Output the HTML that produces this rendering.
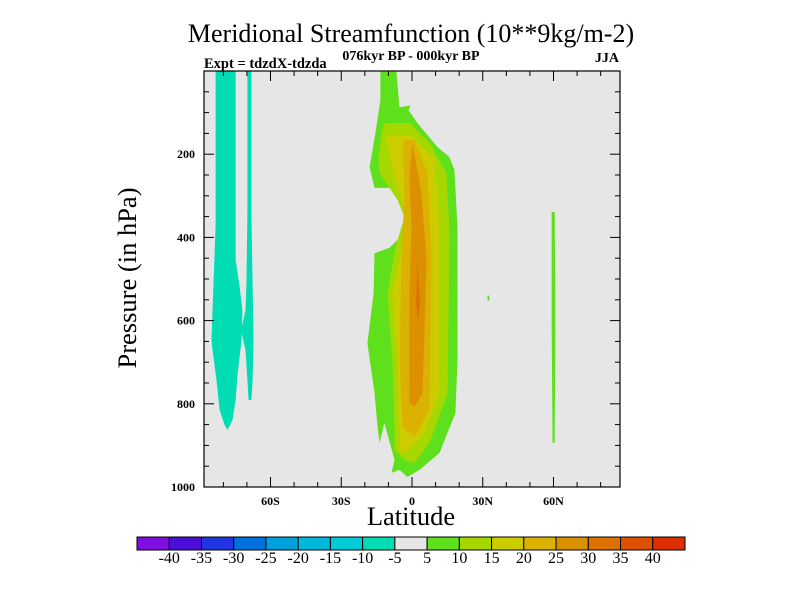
<!DOCTYPE html>
<html><head><meta charset="utf-8"><style>
html,body{margin:0;padding:0;background:#fff;}
svg{display:block;font-family:"Liberation Serif",serif;}
</style></head><body>
<svg id="chart" width="800" height="600" viewBox="0 0 800 600">
<text x="411" y="42" font-size="26" text-anchor="middle">Meridional Streamfunction (10**9kg/m-2)</text>
<text x="411" y="60" font-size="14" font-weight="bold" text-anchor="middle">076kyr BP - 000kyr BP</text>
<text x="204" y="68" font-size="14.5" font-weight="bold">Expt = tdzdX-tdzda</text>
<text x="619" y="62" font-size="14" font-weight="bold" text-anchor="end">JJA</text>
<text transform="translate(136,278) rotate(-90)" font-size="26.5" text-anchor="middle">Pressure (in hPa)</text>
<text x="411" y="525" font-size="26.5" text-anchor="middle">Latitude</text>
<rect x="204" y="71" width="416" height="416" fill="#e6e6e6"/>
<g id="fills"></g>
<g id="axes"></g>
<g id="colorbar"></g>
</svg>
<script>
const levels = [-40,-35,-30,-25,-20,-15,-10,-5,5,10,15,20,25,30,35,40];
const levelColors = ["#7f0ee0","#4a10d8","#2034e0","#0070dc","#00a0dc","#00b8dc","#00ccd8","#00dcb4","#e6e6e6","#5ee01c","#a6d800","#cccc00","#dcb200","#dc9000","#dc7000","#dc5000","#dc3000"];
const xTicks = [-60,-30,0,30,60];
const xTickLabels = ["60S","30S","0","30N","60N"];
const yTicks = [200,400,600,800,1000];
const cyanMain = [[-83.3,0],[-74.8,0],[-74.8,454],[-73.2,514],[-71.9,575],[-72.3,647],[-74,731],[-74.8,791],[-76.1,839],[-78.2,863],[-79.5,850],[-81.6,815],[-82.9,743],[-84.6,671],[-85,647],[-84.6,575],[-83.8,454],[-83.3,370]];
const cyanThin = [[-69.8,0],[-68.1,0],[-68.1,341],[-67.6,514],[-67.2,647],[-67.6,743],[-68.1,791],[-69.3,791],[-69.8,743],[-70.6,671],[-72.5,623],[-70.6,575],[-70.2,514],[-69.8,341]];
const green5 = [[-13.4,2],[-6.6,2],[-5.3,87],[-0.6,83],[-1.5,94],[2.3,125],[10.8,183],[15.9,207],[18,238],[19.3,375],[19.3,695],[18.4,822],[11.7,918],[3.2,959],[-1.9,976],[-5.3,959],[-8.7,966],[-7.4,935],[-11.7,846],[-13.8,894],[-14.6,856],[-15.9,774],[-18.9,654],[-16.3,534],[-15.9,438],[-9.5,425],[-3.2,389],[-1.1,341],[-3.6,310],[-9.5,281],[-15.9,281],[-18,231],[-15.5,149],[-13.4,70]];
const green10 = [[-11.7,125],[-1.1,125],[7.4,173],[14.6,245],[15.9,389],[15.1,774],[7.4,894],[1.1,942],[-3.2,935],[-7.4,911],[-7.4,856],[-8.3,695],[-10.4,534],[-7,423],[-3.2,351],[-6.1,310],[-13.8,245],[-14.2,214],[-12.9,149]];
const yellow15 = [[-10.4,156],[-0.2,156],[9.5,214],[11.7,375],[11.7,774],[5.3,870],[-1.1,911],[-5.3,918],[-6.1,695],[-8.3,534],[-5.3,454],[-2.3,351],[-5.3,293],[-8.3,238],[-10.4,173]];
const gold20 = [[-3.2,166],[1.1,166],[6.6,245],[8.3,454],[7.4,815],[1.1,880],[-4,856],[-5.3,695],[-4.5,454],[-3.2,293],[-4,190]];
const orange25 = [[0.2,173],[4.0,293],[6.2,454],[4.5,774],[1.1,807],[-1.1,798],[-1.1,534],[-0.2,375],[-1.1,255]];
const orange30 = [[2.3,454],[3.4,560],[2.6,600],[1.8,560]];
const green60N = [[59.2,339],[60.5,339],[60.8,600],[60.5,894],[59.6,894],[59.2,600]];
const greenDot = [[32.0,540],[32.8,540],[32.8,552],[32.0,552]];

const NS="http://www.w3.org/2000/svg";
const X0=204,X1=620,Y0=71,Y1=487,LATMIN=-88.2,LATMAX=88.2,PMIN=0,PMAX=1000;
function xs(lat){return X0+(lat-LATMIN)/(LATMAX-LATMIN)*(X1-X0);}
function ys(p){return Y0+(p-PMIN)/(PMAX-PMIN)*(Y1-Y0);}
function mk(tag,attrs,parent){const e=document.createElementNS(NS,tag);for(const k in attrs)e.setAttribute(k,attrs[k]);parent.appendChild(e);return e;}
const fills=document.getElementById('fills');
const shapes=[[cyanMain,levelColors[7],'contour-cyan-main'],[cyanThin,levelColors[7],'contour-cyan-thin'],[green5,levelColors[9],'contour-level-5'],[green10,levelColors[10],'contour-level-10'],[yellow15,levelColors[11],'contour-level-15'],[gold20,levelColors[12],'contour-level-20'],[orange25,levelColors[13],'contour-level-25'],[orange30,levelColors[14],'contour-level-30'],[green60N,levelColors[9],'contour-60n'],[greenDot,levelColors[9],'contour-30n-dot']];
shapes.forEach(s=>{
  const p=mk('polygon',{points:s[0].map(d=>xs(d[0]).toFixed(1)+','+ys(d[1]).toFixed(1)).join(' '),fill:s[1]},fills);
  
  
});
const axes=document.getElementById('axes');
const frame=mk('rect',{x:X0,y:Y0,width:X1-X0,height:Y1-Y0,fill:'none',stroke:'#000','stroke-width':1.2},axes);


for(let lat=-80;lat<=80;lat+=10){
  const major=lat%30===0, L=major?10:5, x=xs(lat);
  mk('line',{x1:x,y1:Y1,x2:x,y2:Y1-L,stroke:'#000'},axes);
  mk('line',{x1:x,y1:Y0,x2:x,y2:Y0+L,stroke:'#000'},axes);
}
for(let p=50;p<1000;p+=50){
  const major=p%200===0, L=major?10:5, y=ys(p);
  mk('line',{x1:X0,y1:y,x2:X0+L,y2:y,stroke:'#000'},axes);
  mk('line',{x1:X1,y1:y,x2:X1-L,y2:y,stroke:'#000'},axes);
}
xTicks.forEach((v,i)=>{
  const t=mk('text',{x:xs(v),y:505,'font-size':12,'font-weight':'bold','text-anchor':'middle'},axes);
  t.textContent=xTickLabels[i];
  
  
});
yTicks.forEach(v=>{
  const t=mk('text',{x:X0-9,y:ys(v)+4,'font-size':12,'font-weight':'bold','text-anchor':'end'},axes);
  t.textContent=v;
  
  
});
const cb=document.getElementById('colorbar');
const CB0=137,CB1=685,CBY=537,CBH=13,bw=(CB1-CB0)/levelColors.length;
levelColors.forEach((c,i)=>{
  const r=mk('rect',{x:CB0+i*bw,y:CBY,width:bw,height:CBH,fill:c,stroke:'#000','stroke-width':1},cb);
  
  
});
levels.forEach((v,i)=>{
  const t=mk('text',{x:CB0+(i+1)*bw,y:563,'font-size':16,'text-anchor':'middle'},cb);
  t.textContent=v;
  
  
});
</script>
</body></html>
